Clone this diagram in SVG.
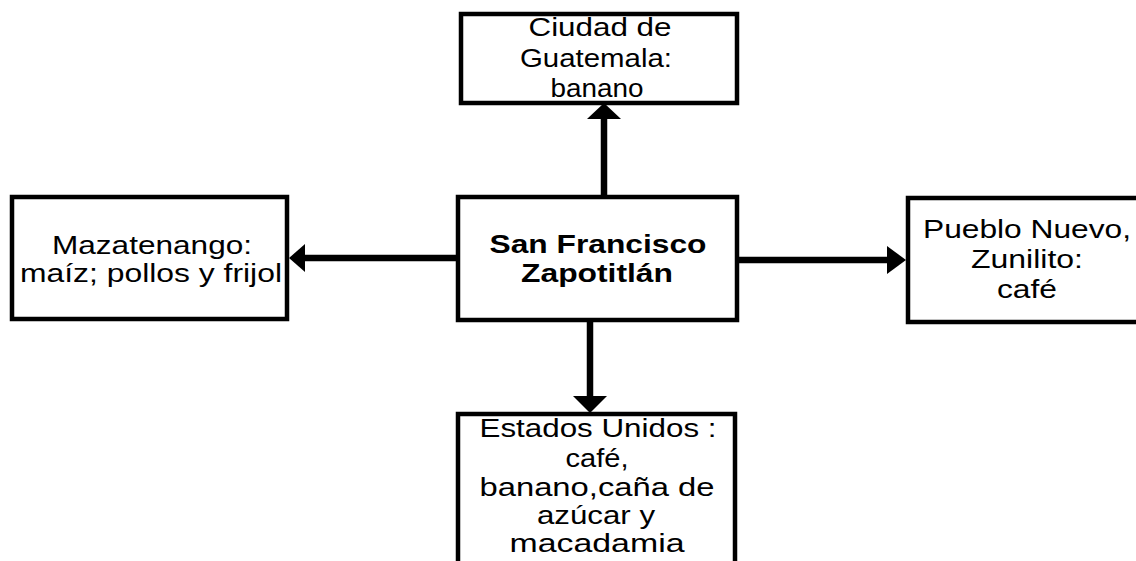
<svg xmlns="http://www.w3.org/2000/svg" width="1136" height="561" viewBox="0 0 1136 561">
<style>
.box{fill:#fff;stroke:#000;stroke-width:4.5}
.t{font-family:"Liberation Sans",Arial,sans-serif;font-size:25px;fill:#000;text-anchor:middle}
.b{font-weight:bold}
.ln{stroke:#000;stroke-width:6.5;fill:none}
.hd{fill:#000}
</style>
<rect width="1136" height="561" fill="#fff"/>
<g id="connectors">
<line class="ln" x1="604" y1="197" x2="604" y2="116"/>
<polygon class="hd" points="587,119 621,119 604,103"/>
<line class="ln" x1="590" y1="320" x2="590" y2="398"/>
<polygon class="hd" points="573,396 607,396 590,413"/>
<line class="ln" x1="458" y1="258" x2="303" y2="258"/>
<polygon class="hd" points="305,244 305,272 289,258"/>
<line class="ln" x1="737" y1="260" x2="889" y2="260"/>
<polygon class="hd" points="887,246 887,274 906,260"/>
</g>
<g id="n-guatemala">
<rect class="box" x="461" y="14" width="276" height="89"/>
<text class="t" x="600" y="36" textLength="143" lengthAdjust="spacingAndGlyphs">Ciudad de</text>
<text class="t" x="596" y="67" textLength="152" lengthAdjust="spacingAndGlyphs">Guatemala:</text>
<text class="t" x="597" y="97" textLength="93" lengthAdjust="spacingAndGlyphs">banano</text>
</g>
<g id="n-mazatenango">
<rect class="box" x="12" y="197" width="275" height="122"/>
<text class="t" x="152" y="254" textLength="200" lengthAdjust="spacingAndGlyphs">Mazatenango:</text>
<text class="t" x="151" y="282" textLength="262" lengthAdjust="spacingAndGlyphs">maíz; pollos y frijol</text>
</g>
<g id="n-sanfrancisco">
<rect class="box" x="458" y="197" width="279" height="123"/>
<text class="t b" x="598" y="253" textLength="217" lengthAdjust="spacingAndGlyphs">San Francisco</text>
<text class="t b" x="597" y="282" textLength="152" lengthAdjust="spacingAndGlyphs">Zapotitlán</text>
</g>
<g id="n-pueblonuevo">
<rect class="box" x="908" y="198" width="240" height="124"/>
<text class="t" x="1027" y="238" textLength="208" lengthAdjust="spacingAndGlyphs">Pueblo Nuevo,</text>
<text class="t" x="1027" y="268" textLength="112" lengthAdjust="spacingAndGlyphs">Zunilito:</text>
<text class="t" x="1027" y="298" textLength="60" lengthAdjust="spacingAndGlyphs">café</text>
</g>
<g id="n-estadosunidos">
<rect class="box" x="458" y="414" width="277" height="160"/>
<text class="t" x="598" y="437" textLength="237" lengthAdjust="spacingAndGlyphs">Estados Unidos :</text>
<text class="t" x="597" y="467" textLength="63" lengthAdjust="spacingAndGlyphs">café,</text>
<text class="t" x="597" y="496" textLength="235" lengthAdjust="spacingAndGlyphs">banano,caña de</text>
<text class="t" x="596" y="524" textLength="118" lengthAdjust="spacingAndGlyphs">azúcar y</text>
<text class="t" x="597" y="552" textLength="175" lengthAdjust="spacingAndGlyphs">macadamia</text>
</g>
</svg>
